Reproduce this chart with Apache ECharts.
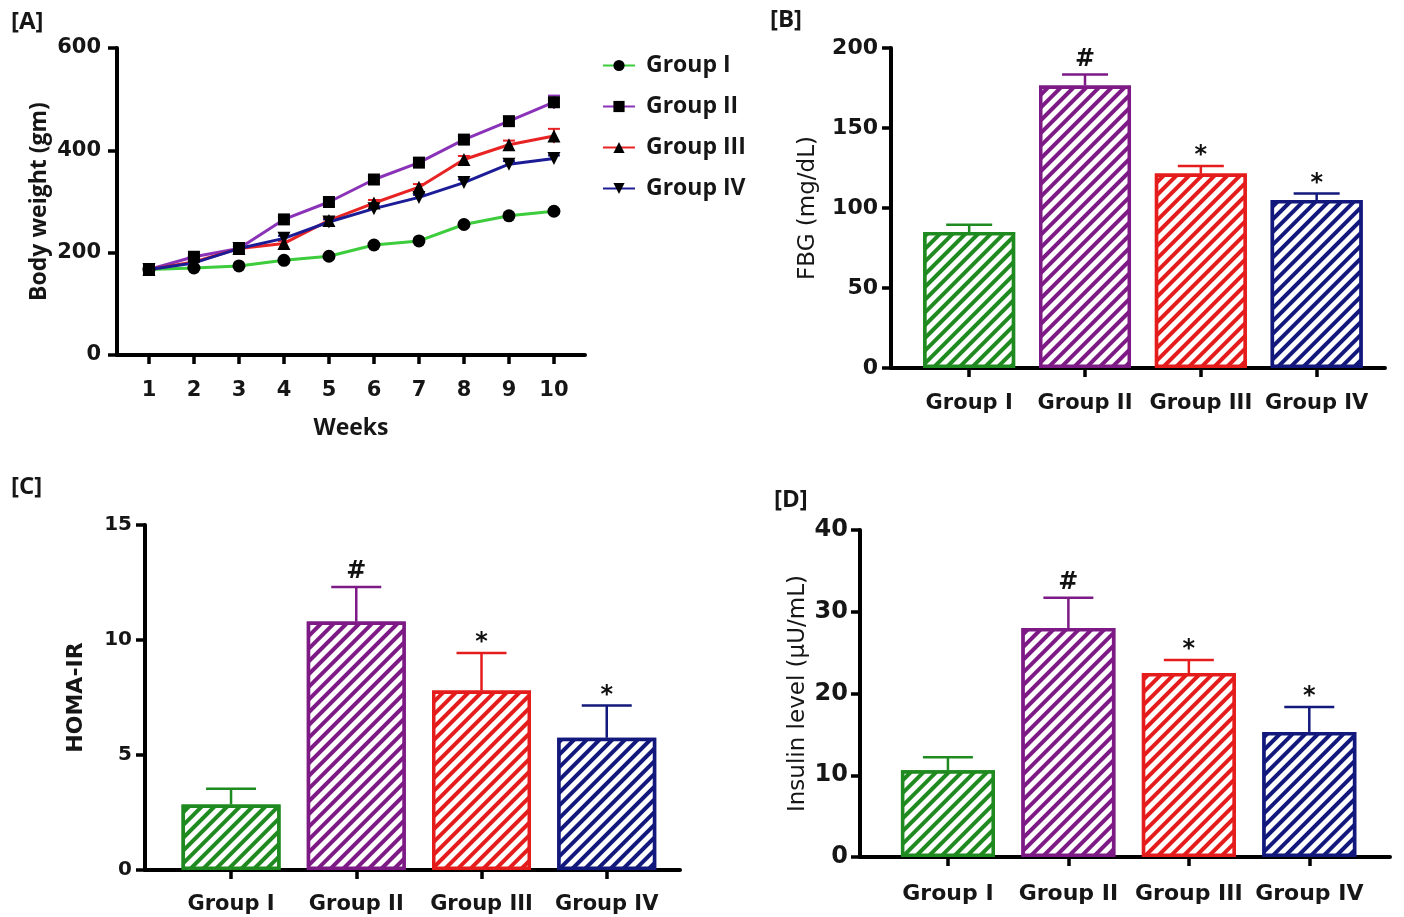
<!DOCTYPE html>
<html><head><meta charset="utf-8">
<script src="https://cdn.jsdelivr.net/npm/echarts@6/dist/echarts.min.js"></script>
<style>html,body{margin:0;padding:0;background:#fff}#c{width:1404px;height:917px}</style>
</head><body><div id="c"></div>
<script>
// ---------- Panel A: body weight ----------
const weeks = [1, 2, 3, 4, 5, 6, 7, 8, 9, 10];
const weekLabels = ['1', '2', '3', '4', '5', '6', '7', '8', '9', '10'];
const bwGroupI   = [167, 170, 174, 185, 193, 215, 223, 255, 272, 281];
const bwGroupII  = [167, 192, 208, 265, 299, 343, 376, 421, 457, 494];
const bwGroupIII = [167, 182, 208, 218, 263, 297, 328, 382, 411, 428];
const bwGroupIV  = [167, 180, 208, 228, 260, 286, 308, 337, 373, 384];
const bwErrGroupI   = [3, 3, 3, 3, 3, 3, 3, 4, 4, 4];
const bwErrGroupII  = [3, 4, 4, 5, 5, 6, 6, 7, 8, 13];
const bwErrGroupIII = [3, 4, 4, 5, 5, 6, 6, 7, 8, 14];
const bwErrGroupIV  = [3, 4, 4, 5, 5, 5, 5, 6, 6, 6];
const yTicksA = [0, 200, 400, 600];

// ---------- Panels B–D ----------
const groups = ['Group I', 'Group II', 'Group III', 'Group IV'];
const fbgMean = [85, 176.5, 121.5, 105];
const fbgErr  = [4.5, 7, 4.8, 4];
const homaMean = [2.85, 10.8, 7.8, 5.75];
const homaErr  = [0.68, 1.5, 1.63, 1.4];
const insMean = [10.6, 28, 22.5, 15.3];
const insErr  = [1.6, 3.7, 1.6, 3.05];
const sigMarks = ['', '#', '*', '*'];

// ---------- styles ----------
const lineColors = ['#3ccc3c', '#8a33b8', '#e82323', '#1c1c96'];
const barColors = ['#1f8a1f', '#7d1a86', '#e51c1c', '#12187c'];
const TXT = '#161616';
const numFont = {fontFamily: 'DejaVu Sans', fontWeight: 'bold', color: TXT};

function valueYAxis(gi, max, interval, fs, margin, name, nameFont, nameGap) {
  return {
    type: 'value', gridIndex: gi, min: 0, max: max, interval: interval,
    axisLine: {show: true, onZero: false, lineStyle: {color: '#000', width: 4}},
    axisTick: {show: true, length: 9, lineStyle: {color: '#000', width: 3.5}},
    axisLabel: Object.assign({fontSize: fs, margin: margin}, numFont),
    splitLine: {show: false},
    name: name, nameLocation: 'middle', nameRotate: 90, nameGap: nameGap,
    nameTextStyle: Object.assign({color: TXT}, nameFont)
  };
}
function groupXAxis(gi, min, max, fs, margin) {
  return {
    type: 'value', gridIndex: gi, min: min, max: max,
    axisLine: {show: true, onZero: false, lineStyle: {color: '#000', width: 4}},
    axisTick: {show: true, length: 9, lineStyle: {color: '#000', width: 3.5}, customValues: [0, 1, 2, 3]},
    axisLabel: Object.assign({fontSize: fs, margin: margin, customValues: [0, 1, 2, 3],
      formatter: v => groups[Math.round(v)]}, numFont),
    splitLine: {show: false}
  };
}
function barSeries(gi, means, width) {
  return {
    type: 'bar', xAxisIndex: gi, yAxisIndex: gi, barWidth: width, z: 2, silent: true,
    data: means.map((m, i) => ({
      value: [i, m],
      itemStyle: {
        color: '#fff', borderColor: barColors[i], borderWidth: 3.5,
        decal: {symbol: 'rect', symbolSize: 1, dashArrayX: [1, 0], dashArrayY: [3.3, 4.3],
                rotation: -Math.PI / 4, color: barColors[i], backgroundColor: '#fff'}
      }
    }))
  };
}
function errSeries(gi, means, errs, marks, colors, capHalf, lw) {
  return {
    type: 'custom', xAxisIndex: gi, yAxisIndex: gi, z: 3, silent: true,
    data: means.map((m, i) => [i, m, m + errs[i]]),
    renderItem(params, api) {
      const i = params.dataIndex;
      const p0 = api.coord([api.value(0), api.value(1)]);
      const p1 = api.coord([api.value(0), api.value(2)]);
      const c = colors[i];
      const ch = [
        {type: 'line', shape: {x1: p0[0], y1: p0[1], x2: p1[0], y2: p1[1]}, style: {stroke: c, lineWidth: lw}},
        {type: 'line', shape: {x1: p1[0] - capHalf, y1: p1[1], x2: p1[0] + capHalf, y2: p1[1]}, style: {stroke: c, lineWidth: lw}}
      ];
      if (marks && marks[i]) {
        ch.push({type: 'text', style: {text: marks[i], x: p1[0], y: p1[1] - (marks[i] === '#' ? 15 : 10),
          align: 'center', verticalAlign: 'middle', fontSize: 24, fontWeight: 'bold', fontFamily: 'DejaVu Sans', fill: '#111'}});
      }
      return {type: 'group', children: ch};
    }
  };
}
function weightErrSeries(name, vals, errs, color) {
  return {
    type: 'custom', name: name + ' err', xAxisIndex: 0, yAxisIndex: 0, z: 1, silent: true,
    data: weeks.map((w, i) => [w, vals[i], vals[i] + errs[i], vals[i] - errs[i]]),
    renderItem(params, api) {
      const a = api.coord([api.value(0), api.value(2)]);
      const b = api.coord([api.value(0), api.value(3)]);
      return {type: 'group', children: [
        {type: 'line', shape: {x1: a[0], y1: a[1], x2: b[0], y2: b[1]}, style: {stroke: color, lineWidth: 2}},
        {type: 'line', shape: {x1: a[0] - 6, y1: a[1], x2: a[0] + 6, y2: a[1]}, style: {stroke: color, lineWidth: 2}}
      ]};
    }
  };
}
function lineSeries(name, vals, color, symbol, rot, size) {
  return {
    type: 'line', name: name, xAxisIndex: 0, yAxisIndex: 0, z: 4,
    data: weeks.map((w, i) => [w, vals[i]]),
    symbol: symbol, symbolSize: size, symbolRotate: rot, showAllSymbol: true,
    lineStyle: {color: color, width: 3}, itemStyle: {color: '#000'}
  };
}

const titleFontA = {fontFamily: 'Open Sans', fontWeight: 'bold', fontSize: 23};
const titleFontR = {fontFamily: 'DejaVu Sans', fontWeight: 'normal', fontSize: 23};
const panelFont = {fontFamily: 'Open Sans', fontWeight: 'bold', fontSize: 24, fill: TXT};

const option = {
  animation: false,
  backgroundColor: '#fff',
  grid: [
    {left: 117, top: 48, width: 468, height: 307},
    {left: 891, top: 48, width: 494, height: 320},
    {left: 145, top: 525, width: 535, height: 345},
    {left: 860, top: 530, width: 530, height: 327}
  ],
  legend: {
    orient: 'vertical', left: 597, top: 49, itemWidth: 32, itemHeight: 14, itemGap: 18,
    data: ['Group I', 'Group II', 'Group III', 'Group IV'],
    textStyle: {fontFamily: 'Open Sans', fontWeight: 'bold', fontSize: 23, color: TXT, lineHeight: 23, padding: [0, 0, 0, 6]}
  },
  xAxis: [
    {
      type: 'value', gridIndex: 0, min: 0.29, max: 10.69,
      axisLine: {show: true, onZero: false, lineStyle: {color: '#000', width: 4}},
      axisTick: {show: true, length: 9, lineStyle: {color: '#000', width: 3.5}, customValues: weeks},
      axisLabel: Object.assign({fontSize: 21, margin: 25, customValues: weeks,
        formatter: v => weekLabels[weeks.indexOf(Math.round(v))]}, numFont),
      splitLine: {show: false},
      name: 'Weeks', nameLocation: 'middle', nameGap: 62,
      nameTextStyle: Object.assign({color: TXT}, titleFontA)
    },
    groupXAxis(1, -0.675, 3.59, 21, 25),
    groupXAxis(2, -0.687, 3.585, 21, 24),
    groupXAxis(3, -0.73, 3.67, 22, 26)
  ],
  yAxis: [
    valueYAxis(0, 600, 200, 21, 16, 'Body weight (gm)', titleFontA, 66),
    valueYAxis(1, 200, 50, 22, 13, 'FBG (mg/dL)', titleFontR, 71),
    valueYAxis(2, 15, 5, 20, 13, 'HOMA-IR', {fontFamily: 'DejaVu Sans', fontWeight: 'bold', fontSize: 22}, 58),
    valueYAxis(3, 40, 10, 24, 12, 'Insulin level (µU/mL)', titleFontR, 50)
  ],
  graphic: [
    {type: 'text', left: 11, top: 10, style: Object.assign({text: '[A]'}, panelFont)},
    {type: 'text', left: 770, top: 8, style: Object.assign({text: '[B]'}, panelFont)},
    {type: 'text', left: 11, top: 475, style: Object.assign({text: '[C]'}, panelFont)},
    {type: 'text', left: 774, top: 488, style: Object.assign({text: '[D]'}, panelFont)}
  ],
  series: [
    weightErrSeries('Group I', bwGroupI, bwErrGroupI, lineColors[0]),
    weightErrSeries('Group II', bwGroupII, bwErrGroupII, lineColors[1]),
    weightErrSeries('Group III', bwGroupIII, bwErrGroupIII, lineColors[2]),
    weightErrSeries('Group IV', bwGroupIV, bwErrGroupIV, lineColors[3]),
    lineSeries('Group I', bwGroupI, lineColors[0], 'circle', 0, 13),
    lineSeries('Group II', bwGroupII, lineColors[1], 'rect', 0, 12),
    lineSeries('Group III', bwGroupIII, lineColors[2], 'triangle', 0, 13),
    lineSeries('Group IV', bwGroupIV, lineColors[3], 'triangle', 180, 13),
    barSeries(1, fbgMean, 92), errSeries(1, fbgMean, fbgErr, sigMarks, barColors, 23, 2.5),
    barSeries(2, homaMean, 99), errSeries(2, homaMean, homaErr, sigMarks, barColors, 25, 2.5),
    barSeries(3, insMean, 94), errSeries(3, insMean, insErr, sigMarks, barColors, 25, 2.5)
  ]
};
const chart = echarts.init(document.getElementById('c'), null, {renderer: 'canvas'});
chart.setOption(option);
</script></body></html>
